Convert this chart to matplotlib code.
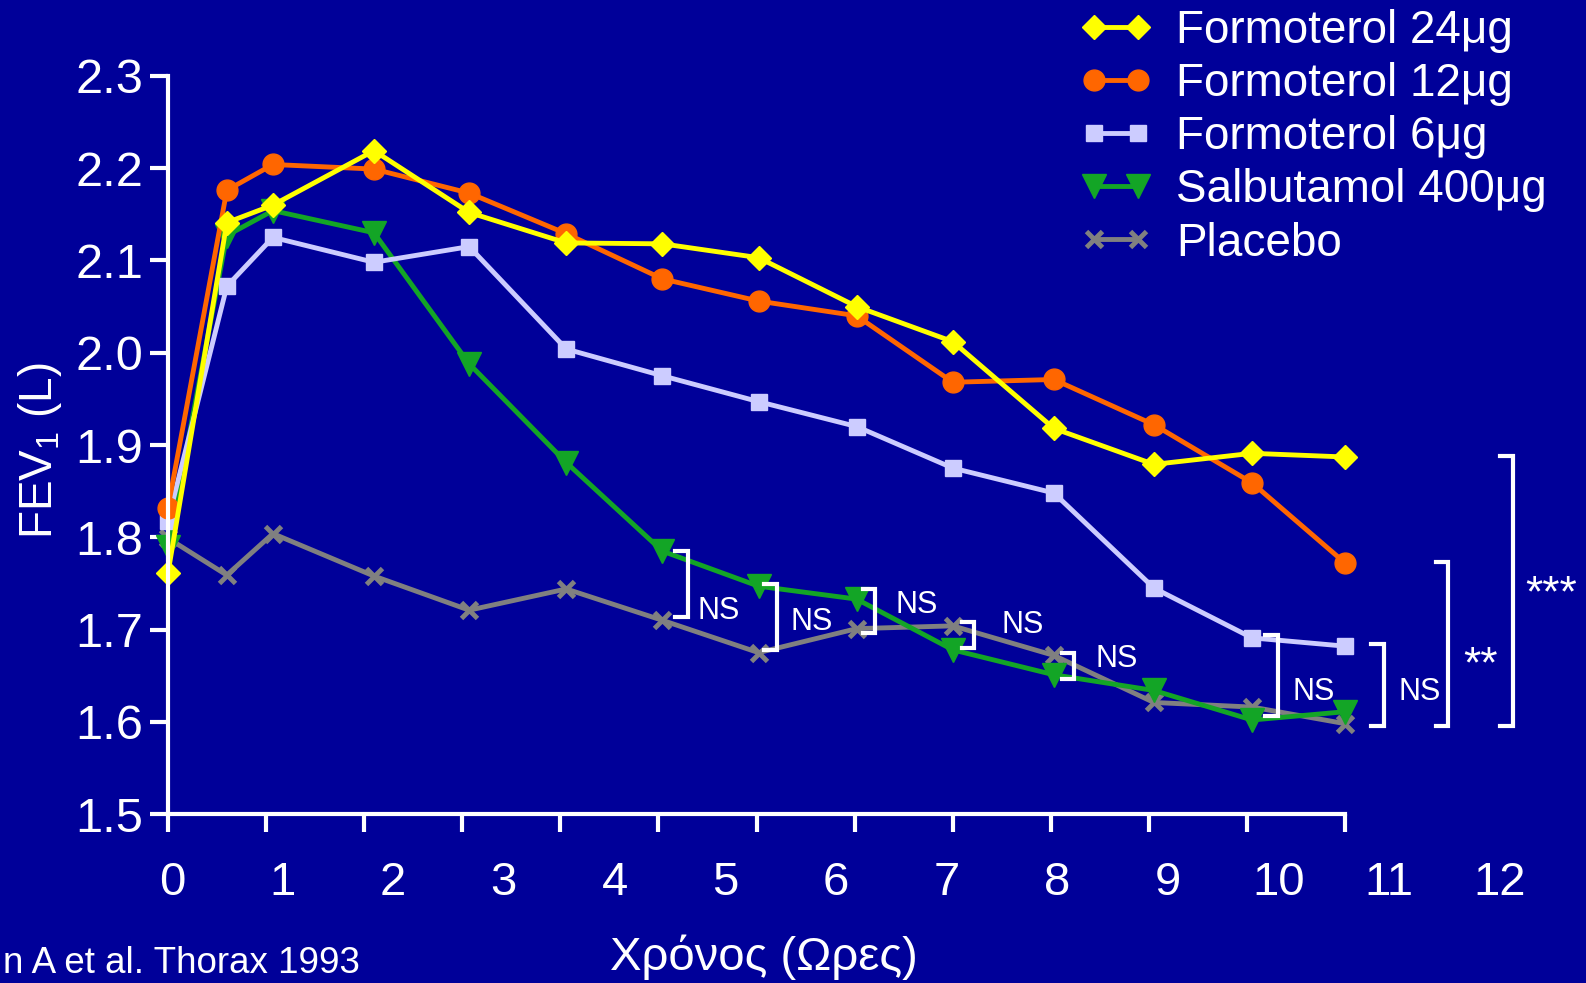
import matplotlib
matplotlib.use("Agg")
import matplotlib.pyplot as plt
import matplotlib.transforms as mtransforms
from matplotlib.legend_handler import HandlerLine2D

plt.rcParams["font.family"] = ["Liberation Sans", "DejaVu Sans"]
plt.rcParams["mathtext.fontset"] = "custom"
plt.rcParams["mathtext.rm"] = "Liberation Sans"
plt.rcParams["mathtext.it"] = "Liberation Sans:italic"

BG = "#000099"
FG = "white"

# time after inhalation (hours), as plotted on the axis
hours = [0, 0.6, 1.07, 2.1, 3.07, 4.06, 5.04, 6.02, 7.02, 8.0, 9.03, 10.05, 11.05, 12.0]

form24 = [1.761, 2.141, 2.160, 2.219, 2.152, 2.119, 2.118, 2.103, 2.050, 2.012, 1.918, 1.879, 1.891, 1.887]
form12 = [1.832, 2.176, 2.204, 2.199, 2.173, 2.129, 2.080, 2.056, 2.040, 1.968, 1.971, 1.922, 1.859, 1.772]
form6 = [1.818, 2.072, 2.125, 2.098, 2.115, 2.004, 1.975, 1.947, 1.920, 1.875, 1.848, 1.745, 1.691, 1.682]
salb400 = [1.789, 2.127, 2.154, 2.130, 1.988, 1.881, 1.785, 1.747, 1.733, 1.678, 1.651, 1.634, 1.602, 1.611]
placebo = [1.799, 1.759, 1.804, 1.758, 1.721, 1.744, 1.710, 1.675, 1.701, 1.704, 1.672, 1.621, 1.616, 1.598]

series_labels = ["Formoterol 24μg", "Formoterol 12μg", "Formoterol 6μg", "Salbutamol 400μg", "Placebo"]

# significance brackets: x of the vertical bar, y top, y bottom, label and its position
bracket_x = [5.30, 6.21, 7.21, 8.22, 9.24, 11.31, 12.39, 13.05, 13.71]
bracket_top = [1.785, 1.749, 1.744, 1.708, 1.675, 1.694, 1.684, 1.773, 1.888]
bracket_bottom = [1.714, 1.678, 1.696, 1.680, 1.646, 1.606, 1.595, 1.595, 1.595]
bracket_text = ["NS", "NS", "NS", "NS", "NS", "NS", "NS", "**", "***"]
bracket_text_x = [5.40, 6.35, 7.42, 8.50, 9.45, 11.46, 12.54, 13.20, 13.83]
bracket_text_y = [1.720, 1.708, 1.727, 1.705, 1.668, 1.632, 1.632, 1.661, 1.738]

xtick_values = list(range(13))
# the hour labels sit on a slightly wider pitch than the tick marks
xtick_label_pos = [0.04 + 1.128 * v for v in xtick_values]
ytick_values = [1.5, 1.6, 1.7, 1.8, 1.9, 2.0, 2.1, 2.2, 2.3]

fig = plt.figure(figsize=(15.86, 9.83), dpi=100, facecolor=BG)
ax = fig.add_axes([0.1059, 0.1718, 0.7423, 0.7510])
ax.set_facecolor(BG)

styles = [
    (form24, "D", "#ffff00", 12),
    (form12, "o", "#ff6600", 15),
    (form6, "s", "#ccccff", 11),
    (salb400, "v", "#13a526", 17),
    (placebo, "x", "#808080", 12),
]

handles = []
# draw placebo first so the formoterol curves end up on top
for (vals, marker, color, ms), label in reversed(list(zip(styles, series_labels))):
    (ln,) = ax.plot(hours, vals, color=color, lw=3.5, marker=marker, ms=ms,
                    mfc=color, mec=color, mew=3.5 if marker == "x" else 1,
                    label=label, clip_on=False)
    handles.append(ln)
handles = handles[::-1]

for xb, yt, yb, txt, tx, ty in zip(bracket_x, bracket_top, bracket_bottom,
                                   bracket_text, bracket_text_x, bracket_text_y):
    ax.plot([xb - 0.13, xb, xb, xb - 0.13], [yt, yt, yb, yb], color=FG, lw=3,
            solid_joinstyle="miter", clip_on=False)
    size = 22 if txt == "NS" else 32
    ax.text(tx, ty, txt, color=FG, fontsize=size, ha="left", va="center")

ax.set_xlim(0, 12)
ax.set_ylim(1.5, 2.3)
for side in ("top", "right"):
    ax.spines[side].set_visible(False)
for side in ("left", "bottom"):
    ax.spines[side].set_color(FG)
    ax.spines[side].set_linewidth(3)

ax.set_xticks(xtick_values)
ax.set_xticklabels([])
ax.set_yticks(ytick_values)
ax.set_yticklabels([f"{v:.1f}" for v in ytick_values])
ax.tick_params(axis="both", colors=FG, length=13, width=3, direction="out")
ax.tick_params(axis="y", labelsize=35, pad=5)

trans = mtransforms.blended_transform_factory(ax.transData, ax.transAxes)
for pos, v in zip(xtick_label_pos, xtick_values):
    ax.text(pos, -0.11, str(v), transform=trans, color=FG, fontsize=34,
            ha="center", va="baseline", clip_on=False)

fig.text(0.0255, 0.542, "FEV$_1$ (L)", rotation=90, color=FG, fontsize=33,
         ha="center", va="center")
fig.text(0.4815, 0.0134, "Χρόνος (Ωρες)", color=FG, fontsize=34,
         ha="center", va="baseline")
fig.text(0.002, 0.002, "n A et al. Thorax 1993", color=FG, fontsize=26.5,
         ha="left", va="bottom")

fig.legend(handles=handles, labels=series_labels, loc="upper left",
           bbox_to_anchor=(0.690, 0.991), frameon=False, fontsize=33,
           handler_map={h: HandlerLine2D(numpoints=2, marker_pad=0) for h in handles},
           handlelength=0.95, handletextpad=0.84,
           labelspacing=0.2, borderpad=0, borderaxespad=0, labelcolor=FG)

fig.savefig("out.png", dpi=100, facecolor=BG)
